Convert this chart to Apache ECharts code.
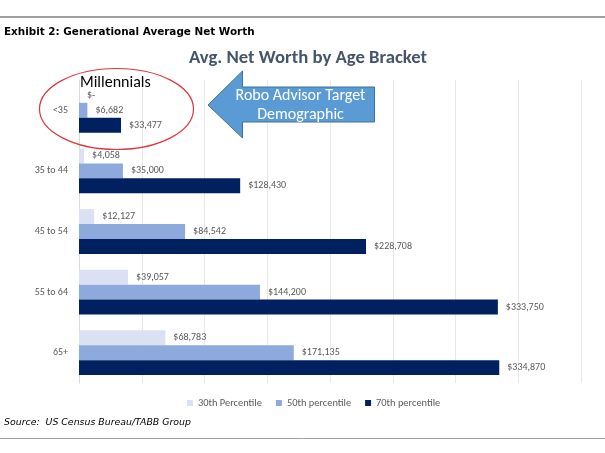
<!DOCTYPE html>
<html>
<head>
<meta charset="utf-8">
<script src="https://cdn.jsdelivr.net/npm/echarts@6/dist/echarts.min.js"></script>
<style>html,body{margin:0;padding:0;background:#fff;}#c{width:605px;height:453px;}</style>
</head>
<body>
<div id="c"></div>
<script>
var categories = ['<35', '35 to 44', '45 to 54', '55 to 64', '65+'];
var seriesNames = ['30th Percentile', '50th percentile', '70th percentile'];
var p30 = [0, 4058, 12127, 39057, 68783];
var p50 = [6682, 35000, 84542, 144200, 171135];
var p70 = [33477, 128430, 228708, 333750, 334870];
var colors = ['#D9E1F2', '#8EA9DB', '#002060'];
var FONT = 'Carlito, Lato, sans-serif';

function fmt(v) {
  if (v === 0) return '$-';
  return '$' + v.toString().replace(/\B(?=(\d{3})+(?!\d))/g, ',');
}

var chart = echarts.init(document.getElementById('c'), null, {renderer: 'canvas'});
function mk(name, data, color) {
  return {
    name: name, type: 'bar', data: data, barGap: '0%', barCategoryGap: '26%',
    itemStyle: {color: color},
    label: {show: true, position: 'right', distance: 8, color: '#595959', fontSize: 10, fontFamily: FONT,
      formatter: function (p) { return fmt(p.value); }}
  };
}
chart.setOption({
  animation: false,
  textStyle: {fontFamily: FONT},
  grid: {left: 79, right: 24, top: 80, bottom: 70, containLabel: false},
  xAxis: {type: 'value', min: 0, max: 400000, interval: 50000,
    axisLabel: {show: false}, axisLine: {show: false}, axisTick: {show: false},
    splitLine: {lineStyle: {color: '#E8E8E8', width: 1}}},
  yAxis: {type: 'category', data: categories, inverse: true,
    axisLine: {lineStyle: {color: '#D9D9D9'}}, axisTick: {show: false},
    axisLabel: {color: '#595959', fontSize: 10, fontFamily: FONT, margin: 11}},
  legend: {top: 393, left: 182, itemWidth: 6, itemHeight: 6, icon: 'rect', itemGap: 14,
    textStyle: {color: '#595959', fontSize: 10.4, fontFamily: FONT}, data: seriesNames},
  series: [mk(seriesNames[0], p30, colors[0]), mk(seriesNames[1], p50, colors[1]), mk(seriesNames[2], p70, colors[2])],
  graphic: [
    {type: 'line', shape: {x1: 0, y1: 17, x2: 605, y2: 17}, style: {stroke: '#A0A0A0', lineWidth: 2}},
    {type: 'line', shape: {x1: 0, y1: 438.5, x2: 605, y2: 438.5}, style: {stroke: '#A0A0A0', lineWidth: 1}},
    {type: 'text', x: 4, y: 32, style: {text: 'Exhibit 2: Generational Average Net Worth', font: 'bold 10.4px "DejaVu Sans"', fill: '#000', textVerticalAlign: 'middle'}},
    {type: 'text', x: 4, y: 423, style: {text: 'Source:  US Census Bureau/TABB Group', font: 'italic 9.4px "DejaVu Sans"', fill: '#000', textVerticalAlign: 'middle'}},
    {type: 'text', x: 308, y: 58, style: {text: 'Avg. Net Worth by Age Bracket', font: 'bold 18.7px Carlito, Lato, sans-serif', fill: '#44546A', textAlign: 'center', textVerticalAlign: 'middle'}},
    {type: 'ellipse', shape: {cx: 116.5, cy: 109, rx: 77, ry: 40.5}, style: {fill: null, stroke: '#E0353B', lineWidth: 1.2}, z: 100},
    {type: 'text', x: 80, y: 83, style: {text: 'Millennials', font: '16px Carlito, Lato, sans-serif', fill: '#000', textVerticalAlign: 'middle'}, z: 100},
    {type: 'polygon', shape: {points: [[208, 105], [242.5, 71], [242.5, 87], [374.5, 87], [374.5, 122], [242.5, 122], [242.5, 138]]},
      style: {fill: '#5B9BD5', stroke: '#41719C', lineWidth: 1}, z: 100},
    {type: 'text', x: 300.5, y: 96, style: {text: 'Robo Advisor Target', font: '16px Carlito, Lato, sans-serif', fill: '#fff', textAlign: 'center', textVerticalAlign: 'middle'}, z: 101},
    {type: 'text', x: 300.5, y: 115, style: {text: 'Demographic', font: '16px Carlito, Lato, sans-serif', fill: '#fff', textAlign: 'center', textVerticalAlign: 'middle'}, z: 101}
  ]
});
</script>
</body>
</html>
